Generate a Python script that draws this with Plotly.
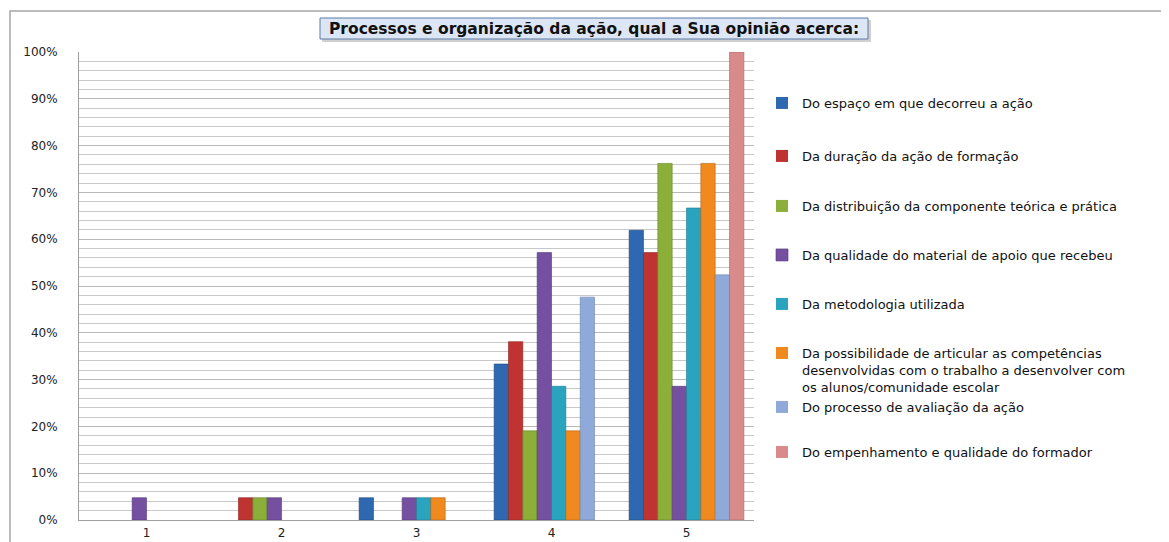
import plotly.graph_objects as go

categories = ["1", "2", "3", "4", "5"]
series_names = [
    "Do espaço em que decorreu a ação",
    "Da duração da ação de formação",
    "Da distribuição da componente teórica e prática",
    "Da qualidade do material de apoio que recebeu",
    "Da metodologia utilizada",
    "Da possibilidade de articular as competências<br>desenvolvidas com o trabalho a desenvolver com<br>os alunos/comunidade escolar",
    "Do processo de avaliação da ação",
    "Do empenhamento e qualidade do formador",
]
espaco = [0, 0, 4.76, 33.33, 61.90]
duracao = [0, 4.76, 0, 38.10, 57.14]
distribuicao = [0, 4.76, 0, 19.05, 76.19]
material = [4.76, 4.76, 4.76, 57.14, 28.57]
metodologia = [0, 0, 4.76, 28.57, 66.67]
articular = [0, 0, 4.76, 19.05, 76.19]
avaliacao = [0, 0, 0, 47.62, 52.38]
formador = [0, 0, 0, 0, 100.0]
series_values = [espaco, duracao, distribuicao, material, metodologia, articular, avaliacao, formador]

colors = ["#2E68B0", "#BF3431", "#8CAF3A", "#7650A0", "#2AA3BF", "#F08A1F", "#8FAAD8", "#D98A8A"]
edges = ["#1F4A80", "#8E2220", "#647F22", "#52367A", "#1C7A90", "#B8620E", "#6A84B0", "#A86262"]

# page pixel layout (the html body has an 8px margin)
OFF = 8
PW, PH = 1169, 542
W, H = PW - OFF, PH - OFF
L, R, T, B = 79, 754, 52, 520   # plot area in page pixels
pw, ph = R - L, B - T

def px(x):
    return (x - L) / pw

def py(y):
    return (B - y) / ph

fig = go.Figure()
legend_y = [103, 156, 206, 255, 304, 346, 407, 452]
font = "DejaVu Sans"
lfs = 13
layout_legends = {}
for i, (name, vals) in enumerate(zip(series_names, series_values)):
    lname = "legend" if i == 0 else f"legend{i+1}"
    widths = [0.6 if v > 0 else 0 for v in vals]
    fig.add_trace(go.Bar(
        x=categories, y=vals, name=name,
        marker=dict(color=colors[i], line=dict(color=edges[i], width=widths)),
        legend=lname,
    ))
    yc = legend_y[i]
    if i == 5:
        ly, anchor, va = py(yc - 8), "top", "top"
    else:
        ly, anchor, va = py(yc), "middle", "middle"
    layout_legends[lname] = dict(
        x=px(762), y=ly, xanchor="left", yanchor=anchor, valign=va,
        font=dict(family=font, size=lfs, color="#111111"),
        bgcolor="rgba(0,0,0,0)", itemwidth=30, borderwidth=0,
        tracegroupgap=0, itemclick=False,
    )

fig.update_layout(
    width=W, height=H,
    margin=dict(l=L - OFF, r=PW - R, t=T - OFF, b=PH - B, autoexpand=False),
    paper_bgcolor="white", plot_bgcolor="white",
    barmode="group", bargap=0.15, bargroupgap=0,
    font=dict(family=font, size=12, color="#222222"),
    showlegend=True,
    **layout_legends,
)
fig.update_xaxes(
    type="category", showgrid=False, showline=True, linecolor="#A0A0A0", linewidth=1,
    ticks="", tickfont=dict(size=12, family=font), ticklabelstandoff=2,
)
fig.update_yaxes(
    range=[0, 100], dtick=10, ticksuffix="%", showgrid=True, gridcolor="#B8B8B8", gridwidth=1,
    minor=dict(dtick=2, showgrid=True, gridcolor="#C8C8C8", gridwidth=1),
    showline=True, linecolor="#A0A0A0", linewidth=1, ticks="",
    tickfont=dict(size=12, family=font), zeroline=False, ticklabelstandoff=18,
)

# outer chart border
fig.add_shape(type="rect", xref="paper", yref="paper",
              x0=px(10), x1=px(1200), y0=py(600), y1=py(11),
              line=dict(color="#A6A6A6", width=1.5), fillcolor="rgba(0,0,0,0)", layer="below")

# title box with shadow
fig.add_shape(type="rect", xref="paper", yref="paper",
              x0=px(322), x1=px(871), y0=py(42), y1=py(20),
              line=dict(width=0), fillcolor="rgba(120,120,120,0.35)")
fig.add_shape(type="rect", xref="paper", yref="paper",
              x0=px(320), x1=px(868), y0=py(39), y1=py(18),
              line=dict(color="#5A7BA8", width=1), fillcolor="#DCE6F4")
fig.add_annotation(
    text="<b>Processos e organização da ação, qual a Sua opinião acerca:</b>",
    xref="paper", yref="paper", x=px(594), y=py(29), xanchor="center", yanchor="middle",
    showarrow=False, font=dict(family=font, size=15.5, color="#111111"),
)

fig.write_html("out.html")
